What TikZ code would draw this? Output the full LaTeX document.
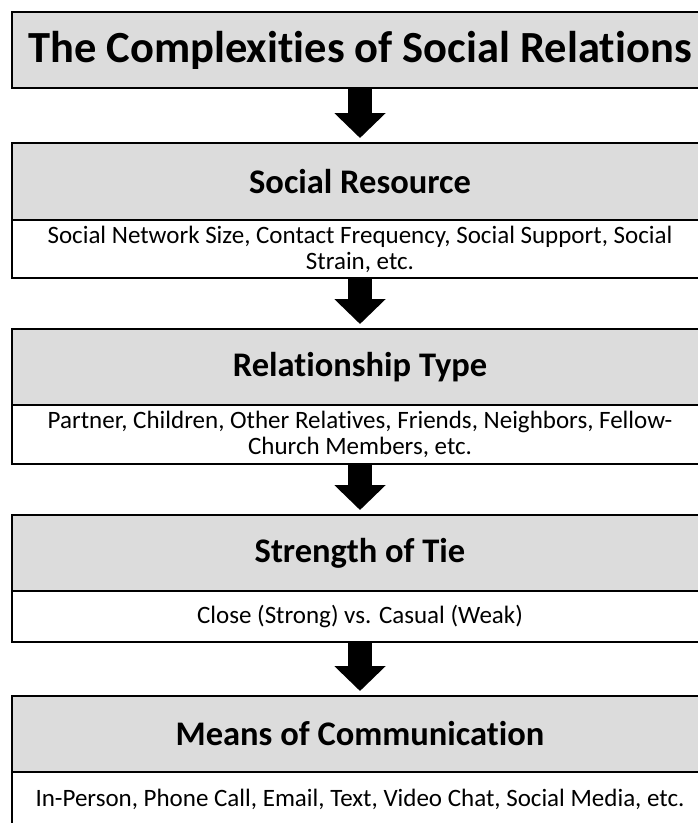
\documentclass[tikz,border=0pt]{standalone}
\usepackage{fontspec}
\setmainfont{Carlito}[Ligatures=NoCommon]
\usetikzlibrary{arrows.meta}
\definecolor{headgray}{RGB}{220,220,220}
\tikzset{
  panel/.style={draw=black, line width=2pt, minimum width=696pt,
    inner sep=0pt, outer sep=0pt, anchor=north},
  headbox/.style={panel, fill=headgray, font=\bfseries\fontsize{34.5}{40}\selectfont},
  titlebox/.style={panel, fill=headgray, font=\bfseries\fontsize{44.5}{50}\selectfont},
  bodybox/.style={panel, fill=white, align=center, font=\fontsize{25}{26}\selectfont},
  flowarrow/.style={line width=24pt, shorten >=5pt,
    -{Triangle[width=50pt,length=25pt]}}
}
\begin{document}
\begin{tikzpicture}[x=1pt,y=1pt]
\clip (0,0) rectangle (698,-823);
\fill[white] (0,0) rectangle (698,-823);

% title
\node[titlebox, minimum height=76pt] (title) at (360,-12) {The Complexities of Social Relations};

% social resource
\node[headbox, minimum height=77pt] (srHead) at (360,-143) {Social Resource};
\node[bodybox, minimum height=58pt] (srBody) at (360,-220)
  {Social Network Size, Contact Frequency, Social Support, Social\\Strain, etc.};

% relationship type
\node[headbox, minimum height=76pt] (rtHead) at (360,-329) {Relationship Type};
\node[bodybox, minimum height=59pt] (rtBody) at (360,-405)
  {Partner, Children, Other Relatives, Friends, Neighbors, Fellow-\\Church Members, etc.};

% strength of tie
\node[headbox, minimum height=76pt] (stHead) at (360,-515) {Strength of Tie};
\node[bodybox, minimum height=51pt] (stBody) at (360,-591) {Close (Strong) vs. Casual (Weak)};

% means of communication
\node[headbox, minimum height=76pt] (mcHead) at (360,-696) {Means of Communication};
\node[bodybox, minimum height=55pt] (mcBody) at (360,-772)
  {In-Person, Phone Call, Email, Text, Video Chat, Social Media, etc.};

% arrows between the stages
\draw[flowarrow] (title) -- (srHead);
\draw[flowarrow] (srBody) -- (rtHead);
\draw[flowarrow] (rtBody) -- (stHead);
\draw[flowarrow] (stBody) -- (mcHead);
\end{tikzpicture}
\end{document}
